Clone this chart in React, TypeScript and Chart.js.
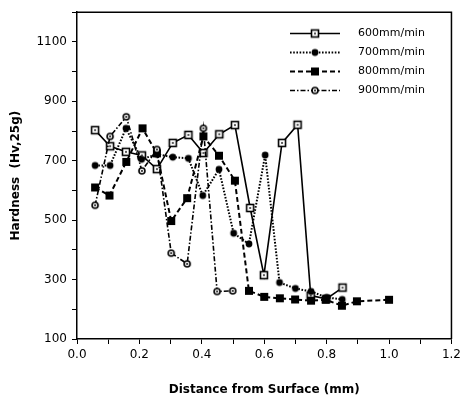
import React, { useEffect, useRef } from "react";
import { Chart, registerables } from "chart.js";

Chart.register(...registerables);

// ---- data ----
const X_600 = [0.058, 0.106, 0.157, 0.208, 0.256, 0.307, 0.357, 0.405, 0.456, 0.506, 0.555, 0.599, 0.657, 0.707, 0.749, 0.799, 0.851];
const Y_600 = [803, 749, 730, 718, 672, 760, 787, 726, 789, 820, 541, 315, 760, 821, 246, 235, 273];

const X_700 = [0.058, 0.106, 0.157, 0.207, 0.256, 0.307, 0.357, 0.403, 0.455, 0.502, 0.551, 0.603, 0.649, 0.7, 0.75, 0.8, 0.85];
const Y_700 = [684, 684, 809, 705, 722, 712, 708, 583, 671, 456, 420, 719, 290, 270, 260, 240, 233];

const X_800 = [0.058, 0.104, 0.158, 0.21, 0.256, 0.302, 0.353, 0.405, 0.455, 0.506, 0.551, 0.6, 0.65, 0.699, 0.75, 0.797, 0.849, 0.897, 1.0];
const Y_800 = [610, 583, 696, 809, 725, 497, 574, 782, 717, 633, 262, 242, 237, 233, 229, 232, 212, 227, 232];

const X_900 = [0.058, 0.106, 0.158, 0.208, 0.256, 0.302, 0.353, 0.405, 0.449, 0.499];
const Y_900 = [550, 782, 848, 666, 738, 389, 353, 809, 260, 262];

const SERIES_LABELS = ["600mm/min", "700mm/min", "800mm/min", "900mm/min"];
const X_TITLE = "Distance from Surface (mm)";
const Y_TITLE = "Hardness  (Hv,25g)";
const X_MIN = 0;
const X_MAX = 1.2;
const Y_MIN = 100;
const Y_MAX = 1200;

const FONT = "'DejaVu Sans', sans-serif";

type MarkerKind = "openSquare" | "filledCircle" | "filledSquare" | "ringDot";

function makeMarker(kind: MarkerKind): HTMLCanvasElement {
  const s = 12;
  const c = document.createElement("canvas");
  c.width = s;
  c.height = s;
  const g = c.getContext("2d")!;
  const m = s / 2;
  g.fillStyle = "#000";
  g.strokeStyle = "#000";
  if (kind === "openSquare") {
    g.fillStyle = "#fff";
    g.fillRect(m - 3.5, m - 3.5, 7, 7);
    g.lineWidth = 1.6;
    g.strokeRect(m - 3.5, m - 3.5, 7, 7);
    g.fillStyle = "#000";
    g.fillRect(m - 0.8, m - 0.8, 1.6, 1.6);
  } else if (kind === "filledCircle") {
    g.beginPath();
    g.arc(m, m, 3.4, 0, Math.PI * 2);
    g.fill();
  } else if (kind === "filledSquare") {
    g.fillRect(m - 4, m - 4, 8, 8);
  } else {
    g.beginPath();
    g.arc(m, m, 3, 0, Math.PI * 2);
    g.fillStyle = "#fff";
    g.fill();
    g.lineWidth = 1.6;
    g.stroke();
    g.beginPath();
    g.fillStyle = "#000";
    g.arc(m, m, 1, 0, Math.PI * 2);
    g.fill();
  }
  return c;
}

export default function App() {
  const ref = useRef<HTMLCanvasElement | null>(null);

  useEffect(() => {
    if (!ref.current) return;
    const markers = [
      makeMarker("openSquare"),
      makeMarker("filledCircle"),
      makeMarker("filledSquare"),
      makeMarker("ringDot"),
    ];
    const dashes: number[][] = [[], [1.6, 1.6], [5, 3], [5, 2, 1.5, 2]];
    const widths = [1.6, 2, 2, 1.6];
    const xs = [X_600, X_700, X_800, X_900];
    const ys = [Y_600, Y_700, Y_800, Y_900];

    const datasets = SERIES_LABELS.map((label, i) => ({
      label,
      data: xs[i].map((x, j) => ({ x, y: ys[i][j] })),
      borderColor: "#000",
      backgroundColor: "#000",
      borderWidth: widths[i],
      borderDash: dashes[i],
      pointStyle: markers[i] as any,
      pointRadius: 4,
      showLine: true,
      tension: 0,
      order: 3 - i,
    }));

    const framePlugin = {
      id: "frameAndLegend",
      afterDraw(chart: any) {
        const { ctx, chartArea } = chart;
        ctx.save();
        ctx.strokeStyle = "#000";
        ctx.lineWidth = 1.5;
        ctx.beginPath();
        ctx.moveTo(chartArea.left, chartArea.top);
        ctx.lineTo(chartArea.right, chartArea.top);
        ctx.lineTo(chartArea.right, chartArea.bottom);
        ctx.stroke();

        // legend
        const lx0 = 290;
        const lx1 = 340;
        const tx = 358;
        const y0 = 33.5;
        const dy = 19;
        SERIES_LABELS.forEach((lab, i) => {
          const y = y0 + i * dy;
          ctx.setLineDash(dashes[i]);
          ctx.lineWidth = widths[i];
          ctx.beginPath();
          ctx.moveTo(lx0, y);
          ctx.lineTo(lx1, y);
          ctx.stroke();
          ctx.setLineDash([]);
          const mk = markers[i];
          ctx.drawImage(mk, (lx0 + lx1) / 2 - mk.width / 2, y - mk.height / 2);
          ctx.fillStyle = "#000";
          ctx.font = `11px ${FONT}`;
          ctx.textBaseline = "middle";
          ctx.textAlign = "left";
          ctx.fillText(lab, tx, y);
        });
        ctx.restore();
      },
    };

    const chart = new Chart(ref.current, {
      type: "scatter",
      data: { datasets: datasets as any },
      plugins: [framePlugin],
      options: {
        animation: false,
        responsive: false,
        devicePixelRatio: 1,
        layout: { padding: { top: 8, right: 13, left: 0, bottom: 0 } },
        plugins: { legend: { display: false }, tooltip: { enabled: false } },
        scales: {
          x: {
            type: "linear",
            min: X_MIN,
            max: X_MAX,
            ticks: {
              stepSize: 0.1,
              autoSkip: false,
              maxRotation: 0,
              color: "#000",
              padding: 4,
              font: { family: FONT, size: 12 },
              callback: (v: any) => {
                const k = Math.round(Number(v) * 10);
                return k % 2 === 0 ? (k / 10).toFixed(1) : "";
              },
            },
            grid: { display: true, drawOnChartArea: false, drawTicks: true, tickLength: 5, color: "#000", lineWidth: 1 },
            border: { display: true, color: "#000", width: 1.5 },
            title: {
              display: true,
              text: X_TITLE,
              color: "#000",
              font: { family: FONT, size: 12, weight: "bold" },
              padding: { top: 0, bottom: 4 },
            },
            afterFit: (s: any) => {
              s.height = 62;
            },
          },
          y: {
            type: "linear",
            min: Y_MIN,
            max: Y_MAX,
            ticks: {
              stepSize: 100,
              autoSkip: false,
              color: "#000",
              padding: 5,
              font: { family: FONT, size: 12 },
              callback: (v: any) => {
                const n = Math.round(Number(v));
                return ((n - 100) / 100) % 2 === 0 && n < Y_MAX ? String(n) : "";
              },
            },
            grid: { display: true, drawOnChartArea: false, drawTicks: true, tickLength: 5, color: "#000", lineWidth: 1 },
            border: { display: true, color: "#000", width: 1.5 },
            title: {
              display: true,
              text: Y_TITLE,
              color: "#000",
              font: { family: FONT, size: 12, weight: "bold" },
              padding: { top: 9, bottom: 0 },
            },
            afterFit: (s: any) => {
              s.width = 77;
            },
          },
        },
      } as any,
    });
    return () => chart.destroy();
  }, []);

  return (
    <div style={{ position: "fixed", left: 0, top: 0, width: 465, height: 401, background: "#fff" }}>
      <canvas ref={ref} width={465} height={401} style={{ width: 465, height: 401, display: "block" }} />
    </div>
  );
}
